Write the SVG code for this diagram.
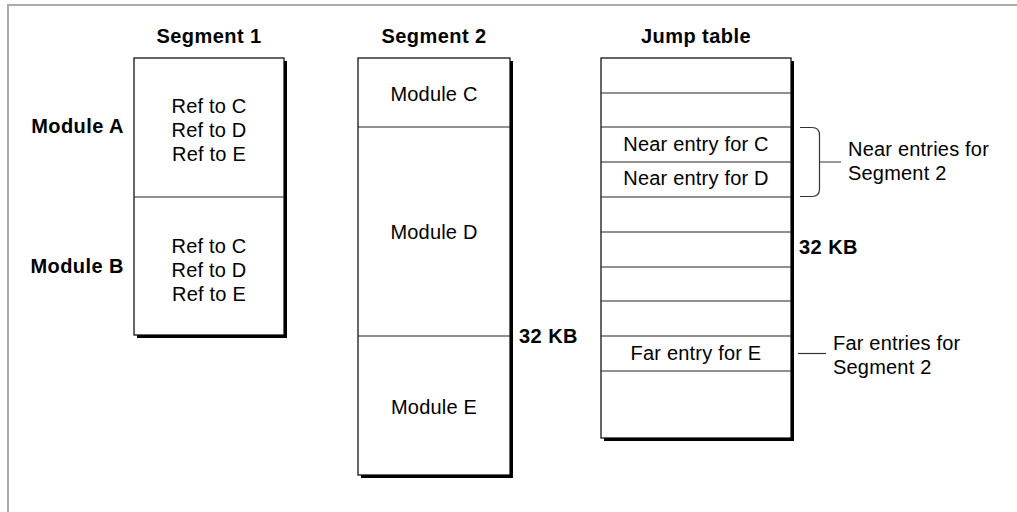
<svg xmlns="http://www.w3.org/2000/svg" width="1017" height="512" viewBox="0 0 1017 512">
<style>
text{font-family:"Liberation Sans",Arial,sans-serif;fill:#000}
.r{font-size:20px;letter-spacing:0.2px}
.b{font-size:20px;font-weight:bold;letter-spacing:0.45px}
.m{text-anchor:middle}
.e{text-anchor:end}
.box{fill:#fff;stroke:#000;stroke-width:1.2}
.sh{fill:#000}
.div{stroke:#222;stroke-width:1.2;fill:none}
.conn{stroke:#333;stroke-width:1.2;fill:none}
</style>
<rect width="1017" height="512" fill="#fff"/>
<path d="M8 512 V5 H1017" fill="none" stroke="#aaa" stroke-width="2"/>

<g id="segment1">
<text class="b m" x="209" y="43">Segment 1</text>
<rect class="sh" x="137" y="61" width="150" height="277"/>
<rect class="box" x="134" y="58" width="150" height="277"/>
<line class="div" x1="134" y1="197" x2="284" y2="197"/>
<text class="r m" x="209" y="113">Ref to C</text>
<text class="r m" x="209" y="137">Ref to D</text>
<text class="r m" x="209" y="161">Ref to E</text>
<text class="r m" x="209" y="253">Ref to C</text>
<text class="r m" x="209" y="277">Ref to D</text>
<text class="r m" x="209" y="301">Ref to E</text>
</g>
<g id="moduleA"><text class="b e" x="124" y="133">Module A</text></g>
<g id="moduleB"><text class="b e" x="124" y="273">Module B</text></g>

<g id="segment2">
<text class="b m" x="434" y="43">Segment 2</text>
<rect class="sh" x="361" y="61" width="152" height="417"/>
<rect class="box" x="358" y="58" width="152" height="417"/>
<line class="div" x1="358" y1="127" x2="510" y2="127"/>
<line class="div" x1="358" y1="336" x2="510" y2="336"/>
<text class="r m" x="434" y="101">Module C</text>
<text class="r m" x="434" y="239">Module D</text>
<text class="r m" x="434" y="414">Module E</text>
<text class="b" x="519" y="343">32 KB</text>
</g>

<g id="jumptable">
<text class="b m" x="696" y="43">Jump table</text>
<rect class="sh" x="604" y="61" width="190" height="380"/>
<rect class="box" x="601" y="58" width="190" height="380"/>
<path class="div" d="M601 93H791M601 127H791M601 162H791M601 197H791M601 232H791M601 267H791M601 301H791M601 336H791M601 371H791"/>
<text class="r m" x="696" y="151">Near entry for C</text>
<text class="r m" x="696" y="185">Near entry for D</text>
<text class="r m" x="696" y="360">Far entry for E</text>
<text class="b" x="799" y="254">32 KB</text>
</g>

<g id="connectors">
<path class="conn" d="M800 127.5 H812 Q819.5 127.5 819.5 135 V189 Q819.5 196.5 812 196.5 H800 M819.5 162 H841"/>
<path class="conn" d="M798 353.5 H826"/>
</g>

<g id="near-label">
<text class="r" x="848" y="156">Near entries for</text>
<text class="r" x="848" y="180">Segment 2</text>
</g>
<g id="far-label">
<text class="r" x="833" y="350">Far entries for</text>
<text class="r" x="833" y="374">Segment 2</text>
</g>
</svg>
